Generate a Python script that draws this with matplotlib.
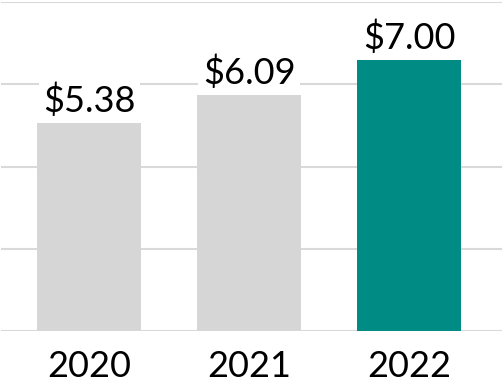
import matplotlib
matplotlib.use("Agg")
import matplotlib.pyplot as plt
from matplotlib.ticker import FixedLocator

years = ["2020", "2021", "2022"]
values = [5.38, 6.09, 7.00]
bar_colors = ["#d6d6d6", "#d6d6d6", "#008b84"]
grid_levels = [0, 2.125, 4.25, 6.375, 8.5]

plt.rcParams["font.family"] = ["Lato", "DejaVu Sans"]

fig = plt.figure(figsize=(5.03, 3.88), dpi=100)
ax = fig.add_axes([1 / 503, 57 / 388, 501 / 503, 329 / 388])

x = range(len(years))
ax.bar(x, values, width=0.65, color=bar_colors, zorder=2)

for xi, v in zip(x, values):
    ax.annotate(f"${v:.2f}", (xi, v), xytext=(0, 8), textcoords="offset points",
                ha="center", va="baseline", fontsize=26, color="black", zorder=3,
                bbox=dict(boxstyle="square,pad=0.12", fc="white", ec="none"))

ax.set_xlim(-0.55, 2.58)
ax.set_ylim(0, 8.5)
ax.yaxis.set_major_locator(FixedLocator(grid_levels))
ax.grid(axis="y", color="#d9d9d9", linewidth=1.5, zorder=0)
ax.set_axisbelow(True)

ax.set_xticks(list(x))
ax.set_xticklabels(years, fontsize=26)
ax.tick_params(axis="x", length=0, pad=14)
ax.tick_params(axis="y", length=0, labelleft=False)
for s in ax.spines.values():
    s.set_visible(False)

fig.savefig("out.png", dpi=100)
